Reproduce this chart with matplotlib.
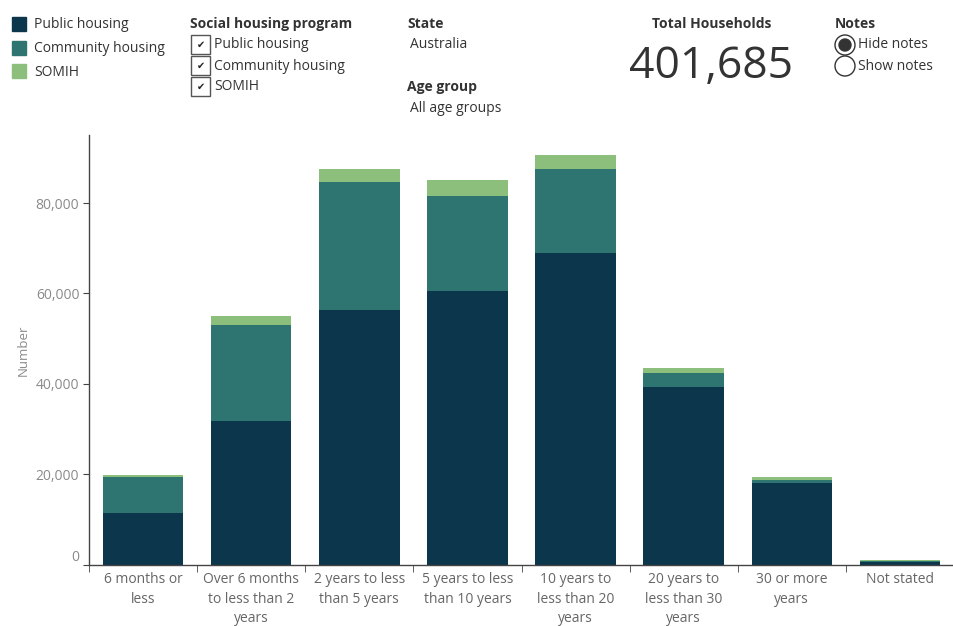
import numpy as np
import matplotlib.pyplot as plt
from matplotlib.patches import Rectangle, Circle

plt.rcParams['font.family'] = ['Open Sans', 'DejaVu Sans']

categories = ['6 months or\nless', 'Over 6 months\nto less than 2\nyears',
              '2 years to less\nthan 5 years', '5 years to less\nthan 10 years',
              '10 years to\nless than 20\nyears', '20 years to\nless than 30\nyears',
              '30 or more\nyears', 'Not stated']
public = [11500, 31800, 56300, 60600, 69000, 39200, 18000, 585]
community = [7800, 21200, 28300, 20900, 18500, 3100, 700, 300]
somih = [500, 1900, 2900, 3700, 3100, 1100, 600, 100]
series_names = ['Public housing', 'Community housing', 'SOMIH']
colors = ['#0b364c', '#2e7572', '#8cbf7b']
yticks = [0, 20000, 40000, 60000, 80000]

total = sum(public) + sum(community) + sum(somih)

fig = plt.figure(figsize=(9.54, 6.26), dpi=100)

# header drawn on a full-figure overlay in pixel units
hd = fig.add_axes([0, 0, 1, 1])
hd.set_xlim(0, 954)
hd.set_ylim(626, 0)
hd.axis('off')

txt = '#333333'
for i, (name, c) in enumerate(zip(series_names, colors)):
    y = 17 + i * 23.5
    hd.add_patch(Rectangle((12, y), 14, 14, color=c))
    hd.text(34, y + 8, name, fontsize=10, color=txt, va='center')

hd.text(190, 24, 'Social housing program', fontsize=10, fontweight='bold', color=txt, va='center')
for i, name in enumerate(series_names):
    y = 35 + i * 21
    hd.add_patch(Rectangle((191, y), 19, 19, fill=False, ec='#555555', lw=1))
    hd.text(200.5, y + 10, '\u2714', fontsize=7, color='#222222', ha='center', va='center',
            family='DejaVu Sans')
    hd.text(214, y + 10, name, fontsize=10, color=txt, va='center')

hd.text(407, 24, 'State', fontsize=10, fontweight='bold', color=txt, va='center')
hd.text(410, 45, 'Australia', fontsize=10, color=txt, va='center')
hd.text(407, 87, 'Age group', fontsize=10, fontweight='bold', color=txt, va='center')
hd.text(410, 108, 'All age groups', fontsize=10, color=txt, va='center')

hd.text(712, 24, 'Total Households', fontsize=10, fontweight='bold', color=txt,
        ha='center', va='center')
hd.text(711, 67, f'{total:,}', fontsize=32, color=txt, ha='center', va='center')

hd.text(835, 24, 'Notes', fontsize=10, fontweight='bold', color=txt, va='center')
hd.add_patch(Circle((845, 45), 10, fill=False, ec='#333333', lw=1))
hd.add_patch(Circle((845, 45), 6, color='#333333'))
hd.add_patch(Circle((845, 66), 10, fill=False, ec='#333333', lw=1))
hd.text(858, 45, 'Hide notes', fontsize=10, color=txt, va='center')
hd.text(858, 66, 'Show notes', fontsize=10, color=txt, va='center')

# stacked bars
ax = fig.add_axes([0.0933, 0.098, 0.9067, 0.686])
x = np.arange(len(categories))
w = 0.745
ax.bar(x, public, w, color=colors[0], label=series_names[0])
ax.bar(x, community, w, bottom=public, color=colors[1], label=series_names[1])
ax.bar(x, somih, w, bottom=np.add(public, community), color=colors[2], label=series_names[2])

ax.set_xlim(-0.5, len(categories) - 0.5)
ax.set_ylim(0, 95000)
ax.set_yticks(yticks)
ax.set_yticklabels([f'{v:,}' for v in yticks])
ax.get_yticklabels()[0].set_va('bottom')
ax.tick_params(axis='y', length=4, color='#444444', labelcolor='#8a8a8a', labelsize=10, pad=3)
ax.set_ylabel('Number', color='#8a8a8a', fontsize=9.5, labelpad=4)

ax.set_xticks(x)
ax.set_xticklabels(categories, linespacing=1.45, va='top')
ax.tick_params(axis='x', which='major', length=0, labelcolor='#666666', labelsize=10, pad=5)
ax.set_xticks(np.arange(len(categories) + 1) - 0.5, minor=True)
ax.tick_params(axis='x', which='minor', length=5, color='#444444')

for s in ['top', 'right']:
    ax.spines[s].set_visible(False)
for s in ['left', 'bottom']:
    ax.spines[s].set_color('#444444')
    ax.spines[s].set_linewidth(1)

fig.savefig('out.png', dpi=100)
